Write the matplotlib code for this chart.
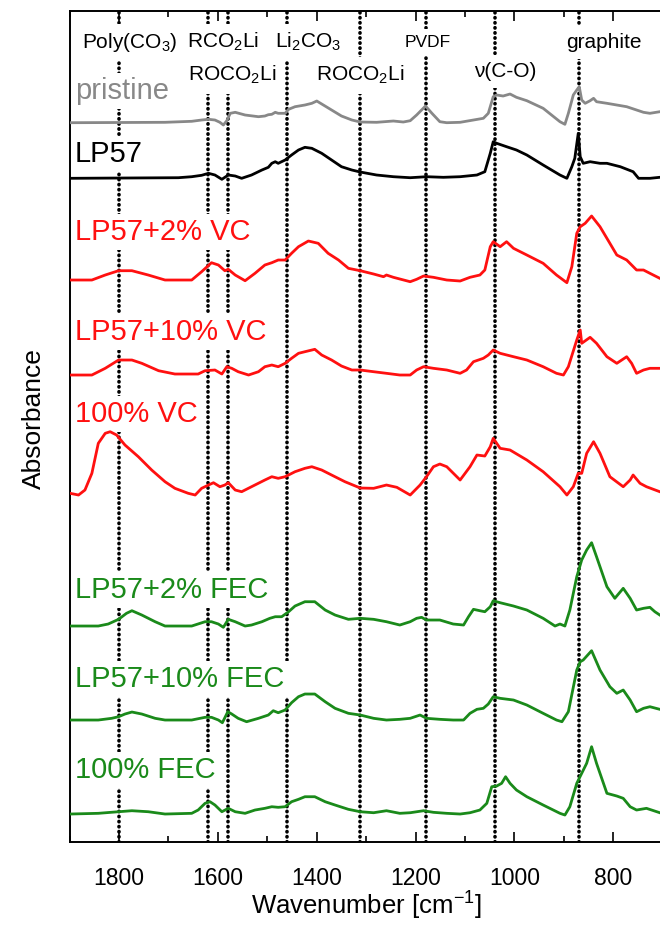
import numpy as np
import matplotlib.pyplot as plt
from matplotlib.ticker import MultipleLocator

plt.rcParams['font.family'] = ['Liberation Sans', 'DejaVu Sans']
plt.rcParams['mathtext.fontset'] = 'custom'
plt.rcParams['mathtext.rm'] = 'Liberation Sans'
plt.rcParams['mathtext.it'] = 'Liberation Sans:italic'
plt.rcParams['mathtext.bf'] = 'Liberation Sans:bold'

# band assignments (dotted lines), cm-1
band_positions = [1800, 1620, 1580, 1460, 1312, 1180, 1040, 870]

# spectra (absorbance in arbitrary units)
wn_pristine = [1899, 1707, 1653, 1633, 1619, 1606, 1596, 1589, 1582, 1575,
               1565, 1545, 1518, 1505, 1498, 1491, 1484, 1478, 1464, 1457,
               1444, 1424, 1410, 1400, 1390, 1370, 1350, 1329, 1312, 1279,
               1245, 1225, 1211, 1198, 1180, 1167, 1151, 1137, 1110, 1083,
               1063, 1053, 1043, 1036, 1023, 1009, 996, 975, 942, 908,
               898, 891, 881, 874, 869, 864, 857, 847, 840, 834,
               813, 793, 773, 739, 726, 706]
abs_pristine = [0.3, 0.7, 1.7, 3, 3.7, 3, 0.7, -2, 2.3, 9.7,
                10.7, 8, 6.3, 7, 8.3, 8.7, 10.7, 9.7, 9.7, 13.7,
                16.3, 18, 19.7, 22, 19, 13, 7, 3, 1, 0.7,
                2, 1, 2.3, 8, 17, 9.7, 1.3, 0.3, 0.7, 3,
                4.7, 9.7, 26.3, 28, 27, 29, 25.7, 22.3, 14.7, 1.3,
                -1.3, 9.7, 28, 33, 36.3, 23, 19.7, 22.3, 24.7, 21.3,
                19.7, 18, 16.3, 10.7, 9.7, 11.3]

wn_lp57 = [1899, 1680, 1653, 1633, 1619, 1606, 1592, 1579, 1565, 1552,
           1532, 1511, 1498, 1491, 1484, 1478, 1464, 1451, 1437, 1424,
           1410, 1390, 1370, 1350, 1329, 1312, 1279, 1245, 1211, 1178,
           1144, 1110, 1076, 1060, 1049, 1043, 1036, 1026, 1016, 996,
           975, 942, 908, 894, 884, 878, 871, 867, 861, 847,
           827, 813, 786, 760, 749, 726, 706]
abs_lp57 = [-0.3, 0.3, 1.3, 2.7, 4.7, 3, -1.3, 3, 2, -0.3,
            3, 8, 10.7, 14.7, 16.3, 14.7, 18, 23, 28, 30.7,
            29.7, 24.7, 18, 11.3, 8, 6, 3, 1.3, 0.3, 1.3,
            0.7, 1.3, 3, 6.3, 24.7, 36.3, 34.7, 33, 31.3, 28,
            23, 13, 3, -0.3, 11.3, 19.7, 44.7, 21.3, 14.7, 16.3,
            14.7, 14.7, 11.3, 6.3, -0.3, -0.3, 0.7]

wn_vc2 = [1899, 1855, 1828, 1801, 1774, 1741, 1707, 1653, 1633, 1613,
          1599, 1586, 1579, 1565, 1545, 1525, 1505, 1491, 1478, 1464,
          1451, 1437, 1417, 1397, 1377, 1356, 1336, 1312, 1285, 1265,
          1259, 1245, 1211, 1198, 1184, 1164, 1137, 1110, 1090, 1070,
          1060, 1049, 1043, 1029, 1016, 1002, 975, 942, 915, 894,
          884, 874, 867, 857, 844, 827, 807, 793, 773, 753,
          739, 726, 706]
abs_vc2 = [0, 0, 5, 9.3, 9.3, 5, 0, 0, 8.3, 17.3,
           15, 9.3, 10.7, 5, -0.7, 6.7, 15, 17.3, 20, 20,
           26.7, 33.3, 39, 36.7, 26.7, 20, 11.7, 9.3, 6, 3.3,
           5, 2.7, -1.7, 0.7, 4, 2.7, 0, -1, 2.7, 5,
           10, 33.3, 38.3, 33.3, 38.3, 31.7, 25, 16.7, 5, -2.7,
           13.3, 46.7, 53.3, 56.7, 64, 53.3, 36.7, 25, 20, 10,
           10, 6.7, 1.7]

wn_vc10 = [1899, 1855, 1828, 1801, 1774, 1754, 1720, 1687, 1640, 1626,
           1606, 1592, 1582, 1572, 1559, 1538, 1518, 1505, 1491, 1478,
           1464, 1451, 1437, 1424, 1404, 1390, 1370, 1350, 1329, 1312,
           1285, 1259, 1232, 1211, 1198, 1184, 1164, 1137, 1110, 1097,
           1083, 1063, 1053, 1043, 1029, 1002, 975, 942, 915, 901,
           891, 874, 867, 864, 847, 834, 813, 793, 773, 763,
           753, 739, 726, 706]
abs_vc10 = [0, 0, 6.7, 15, 15, 11.7, 4.3, 1, 1, 4.3,
            5, 1, 8.3, 6.7, 3.3, 0, 3.3, 8.3, 10, 8.3,
            11.7, 16.7, 21.7, 23.3, 25.7, 20, 15, 9, 5, 5,
            3.3, 1.7, 0, 0, 5, 8.3, 6.7, 5, 1.7, 5,
            13.3, 16.7, 20, 25, 21.7, 18.3, 15, 8.3, 1.7, 0,
            8.3, 35, 45, 31.7, 37.7, 31.7, 18.3, 11.7, 18.3, 11.7,
            1.7, 5, 6.7, 6.7]

wn_vc100 = [1899, 1882, 1869, 1855, 1842, 1828, 1818, 1805, 1788, 1761,
            1734, 1707, 1687, 1660, 1646, 1633, 1619, 1609, 1596, 1586,
            1579, 1565, 1552, 1532, 1505, 1491, 1478, 1464, 1444, 1424,
            1410, 1390, 1370, 1343, 1312, 1285, 1259, 1238, 1211, 1191,
            1178, 1164, 1151, 1137, 1110, 1090, 1076, 1060, 1049, 1043,
            1029, 1009, 975, 942, 908, 894, 881, 871, 864, 854,
            840, 827, 807, 780, 766, 760, 746, 733, 719, 706]
abs_vc100 = [1.7, 0, 5, 21.7, 51.7, 61.7, 63.3, 60, 50, 38.3,
             25, 13.3, 6.7, 1.7, 0, 6.7, 10, 12.3, 8.3, 10,
             12.3, 5, 3.3, 8.3, 15, 18.3, 16.7, 18.3, 23.3, 26.7,
             28.3, 25, 20, 13.3, 7, 6.7, 10, 7.7, 0, 10,
             18.3, 28.3, 31, 28.3, 15, 28.3, 40, 39, 48.3, 56.7,
             46.7, 45, 35, 23.3, 8.3, 0, 8.3, 21.7, 21.7, 41.7,
             53.3, 41.7, 18.3, 8.3, 15, 20, 11.7, 8.3, 5.7, 3.3]

wn_fec2 = [1899, 1842, 1822, 1801, 1785, 1774, 1754, 1727, 1707, 1653,
           1626, 1613, 1599, 1589, 1579, 1565, 1545, 1532, 1511, 1495,
           1484, 1471, 1457, 1444, 1424, 1404, 1383, 1363, 1336, 1312,
           1285, 1259, 1232, 1211, 1198, 1188, 1178, 1151, 1124, 1103,
           1093, 1083, 1070, 1060, 1049, 1043, 1029, 1002, 975, 942,
           918, 908, 898, 888, 874, 864, 854, 844, 834, 813,
           797, 780, 766, 753, 739, 726, 716, 706]
abs_fec2 = [0, 0, 2, 6.7, 12.7, 15.3, 11, 4.3, 0, 0,
            4.3, 4.3, 2, -1.3, 6.7, 4.3, 0, 1, 4.3, 7.7,
            9.3, 9.3, 14.3, 20, 24.3, 24.3, 16, 11, 6.7, 7.7,
            6.7, 4.3, 1, 4.3, 7.7, 8.7, 6, 6, 2, 1,
            9.3, 16.7, 15.3, 14.3, 19.3, 25.3, 23.3, 20, 16, 7.7,
            0, 2, 0, 16, 49.3, 66, 76, 83.3, 69.3, 39.3,
            27.7, 37.7, 27.7, 16, 17.7, 18.7, 14.3, 11]

wn_fec10 = [1899, 1842, 1815, 1801, 1788, 1774, 1754, 1727, 1707, 1653,
            1626, 1613, 1599, 1591, 1580, 1572, 1559, 1542, 1518, 1498,
            1488, 1478, 1464, 1451, 1437, 1424, 1404, 1383, 1363, 1336,
            1312, 1285, 1259, 1232, 1211, 1191, 1178, 1151, 1124, 1103,
            1090, 1076, 1063, 1053, 1043, 1029, 1002, 975, 942, 915,
            904, 891, 874, 867, 861, 844, 827, 807, 793, 780,
            766, 753, 739, 726, 706]
abs_fec10 = [0, 0, 1.7, 3.3, 6, 8, 6, 1.7, 0, 0,
             2.7, 2.7, 0, -2.7, 8.3, 6, 1.7, -1.7, 1.7, 5,
             9.3, 7.3, 10, 17.3, 23.3, 26, 26, 18.3, 11.7, 6.7,
             5, 1.7, 0, 0.7, 1.7, 5, 1.7, 0.7, 0, 0,
             6.7, 10.7, 11.7, 16, 23.3, 21.7, 20, 15, 6.7, 0,
             -1.7, 8.3, 50, 58.3, 60, 69.3, 50, 33.3, 26.7, 30,
             20, 8.3, 11.7, 13.3, 10.7]

wn_fec100 = [1899, 1842, 1801, 1774, 1741, 1707, 1653, 1640, 1626, 1616,
             1606, 1592, 1579, 1565, 1545, 1525, 1505, 1491, 1478, 1464,
             1451, 1437, 1424, 1404, 1383, 1363, 1336, 1312, 1285, 1259,
             1232, 1211, 1184, 1164, 1137, 1110, 1090, 1070, 1056, 1046,
             1036, 1026, 1018, 1009, 996, 975, 942, 908, 898, 888,
             874, 864, 854, 844, 834, 813, 793, 780, 766, 753,
             733, 706]
abs_fec100 = [0, 0.7, 2.3, 3.3, 2.3, 0, 0.7, 4, 10.7, 12.3,
              9, 2.3, 5.7, 2.3, 0.7, 4, 5.7, 7.3, 6.7, 7.3,
              12.3, 14.7, 17.3, 17.3, 12.3, 9, 4.7, 2.3, 1.3, 3.3,
              0.7, 1.3, 3.3, 1.7, 0.7, 0, 1.3, 4, 10.7, 27.3,
              28, 30.7, 37.3, 30.7, 24, 17.3, 9, 0.7, -1, 7.3,
              30.7, 40.7, 50.7, 67.3, 50.7, 20.7, 18, 15.7, 7.3, 4,
              5.7, 1.3]

names = ['pristine', 'LP57', 'LP57+2% VC', 'LP57+10% VC', '100% VC',
         'LP57+2% FEC', 'LP57+10% FEC', '100% FEC']
spectra = [(wn_pristine, abs_pristine), (wn_lp57, abs_lp57),
           (wn_vc2, abs_vc2), (wn_vc10, abs_vc10), (wn_vc100, abs_vc100),
           (wn_fec2, abs_fec2), (wn_fec10, abs_fec10), (wn_fec100, abs_fec100)]
offsets = [719, 664, 562, 467, 347, 216, 122, 28]
colors = ['#888888', 'black', '#ff1010', '#ff1010', '#ff1010',
          '#1a8a1a', '#1a8a1a', '#1a8a1a']
label_y = [743, 680, 602, 502, 420, 244, 155, 64]

band_labels = ['Poly(CO$_3$)', 'RCO$_2$Li', 'Li$_2$CO$_3$', 'ROCO$_2$Li',
               'ROCO$_2$Li', 'PVDF', 'ν(C-O)', 'graphite']
band_label_x = [1778, 1590, 1418, 1571, 1312, 1175, 1019, 819]
band_label_y = [794, 794, 794, 761, 761, 795, 765, 794]
band_label_size = [15, 15, 15, 15, 15, 12.5, 15, 15]

fig = plt.figure(figsize=(6.6, 9.25), dpi=100)
ax = fig.add_axes([0.1055, 0.0897, 0.8987, 0.8984])

for (wn, a), off, c in zip(spectra, offsets, colors):
    ax.plot(wn, np.array(a) + off, color=c, lw=2.0, zorder=4,
            solid_joinstyle='round')

for b in band_positions:
    ax.axvline(b, color='black', lw=2.6, ls=(0, (0.1, 1.3)),
               dash_capstyle='round', zorder=2)

box = dict(boxstyle='square,pad=0.15', fc='white', ec='none')
for name, y, c in zip(names, label_y, colors):
    ax.text(1889, y, name, color=c, fontsize=21, ha='left', va='baseline',
            bbox=box, zorder=3)

box_top = dict(boxstyle='square,pad=0.35', fc='white', ec='none')
for t, x, y, s in zip(band_labels, band_label_x, band_label_y, band_label_size):
    ax.text(x, y, t, color='black', fontsize=s, ha='center', va='baseline',
            bbox=box_top, zorder=3)

ax.set_xlim(1900, 700)
ax.set_ylim(0, 831)
ax.xaxis.set_major_locator(MultipleLocator(200))
ax.xaxis.set_minor_locator(MultipleLocator(100))
ax.set_yticks([])
ax.tick_params(which='both', direction='in', top=True, bottom=True, width=1.2)
ax.tick_params(which='major', length=7.5, labelsize=16.5, pad=18)
ax.tick_params(which='minor', length=4.5)
for s in ax.spines.values():
    s.set_linewidth(1.4)

ax.set_xlabel('Wavenumber [cm$^{-1}$]', fontsize=18.5)
ax.xaxis.set_label_coords(0.5, -0.058)
ax.set_ylabel('Absorbance', fontsize=19)
ax.yaxis.set_label_coords(-0.04, 0.509)

fig.savefig('out.png', dpi=100)
